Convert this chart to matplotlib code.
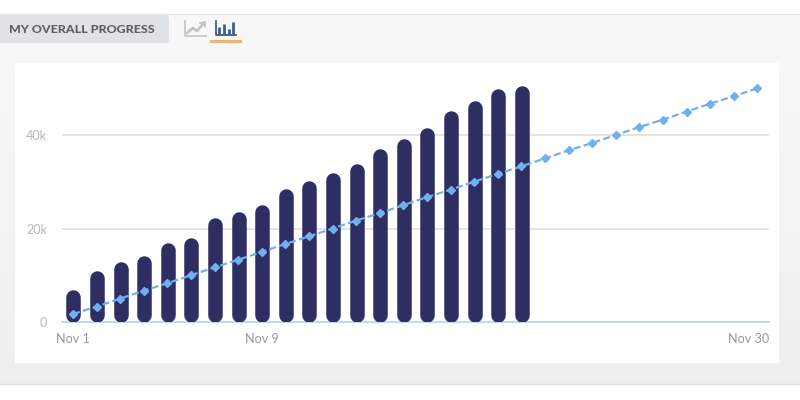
import numpy as np
import matplotlib.pyplot as plt
import matplotlib.transforms as mtrans
from matplotlib.patches import Rectangle, FancyBboxPatch

plt.rcParams['font.family'] = ['Lato', 'DejaVu Sans']

days = list(range(1, 31))
bar_days = days[:20]
# daily totals
bar_values = [7000, 10900, 12800, 14100, 16900, 18000, 22200, 23500, 25000, 28400,
              30200, 31900, 33800, 37000, 39100, 41500, 45100, 47300, 50000, 50500]
# dashed target line
line_values = [1700, 3300, 5000, 6700, 8300, 10000, 11700, 13300, 15000, 16700,
               18300, 20000, 21700, 23300, 25000, 26700, 28300, 30000, 31700, 33300,
               35000, 36700, 38300, 40000, 41700, 43300, 45000, 46700, 48300, 50000]
y_ticks = [0, 20000, 40000]
y_labels = ['0', '20k', '40k']
x_ticks = [1, 9, 30]
x_labels = ['Nov 1', 'Nov 9', 'Nov 30']

W, H = 800, 400
px = 0.72  # points per pixel at dpi 100

fig = plt.figure(figsize=(W / 100, H / 100), dpi=100, facecolor='white')

# page background, in pixel coordinates
bg = fig.add_axes([0, 0, 1, 1])
bg.axis('off')
bg.imshow(np.linspace(0.97, 0.935, 64).reshape(-1, 1), cmap='gray', vmin=0, vmax=1,
          extent=(0, W, 384, 14), aspect='auto', zorder=0)
bg.set_xlim(0, W)
bg.set_ylim(H, 0)
bg.plot([0, W], [14, 14], color='#e8e8e8', lw=1)
bg.plot([0, W], [384, 384], color='#e2e2e2', lw=1)
bg.add_patch(Rectangle((15, 63), 764, 300, fc='white', ec='none'))
bg.add_patch(FancyBboxPatch((-10, 15), 179, 28, boxstyle='round,pad=0,rounding_size=4',
                            fc='#dfe3e6', ec='none'))
bg.text(9, 29.5, 'MY OVERALL PROGRESS', fontsize=12.45 * px, fontweight='black',
        color='#5f5f63', va='center', ha='left')

# line icon
bg.plot([185, 185, 206], [21, 36, 36], color='#c4c4c4', lw=1.2)
bg.plot([187, 193, 197, 204], [33, 28, 31, 23], color='#c4c4c4', lw=2)
bg.plot([200, 205, 205], [23, 22, 27], color='#c4c4c4', lw=1.2)
# bar icon
bg.plot([216, 216, 236], [21, 35, 35], color='#3c4a78', lw=1.2)
for ix, iy in zip([219, 224, 229, 233], [27, 24, 29, 22]):
    bg.plot([ix, ix], [iy, 34], color='#3c5f96', lw=2, solid_capstyle='butt')
bg.add_patch(Rectangle((210, 40), 32, 3, fc='#efb273', ec='none'))

# chart axes, pixel positions from the reference
left, right, top, bottom = 62, 769, 63, 322
ax = fig.add_axes([left / W, 1 - bottom / H, (right - left) / W, (bottom - top) / H])
ax.patch.set_alpha(0)
day_px = 23.6
val_px = 4.675 / 1000
ax.set_xlim(1 - (73 - left) / day_px, 1 + (right - 73) / day_px)
ax.set_ylim(0, (bottom - top) / val_px)

for s in ['top', 'left', 'right']:
    ax.spines[s].set_visible(False)
ax.spines['bottom'].set_color('#ccd3ee')
ax.spines['bottom'].set_linewidth(2 * px)

ax.yaxis.grid(True, color='#e4e4e4', lw=2 * px)
ax.set_axisbelow(True)

# bars with round ends, thick capped lines
bar_w = 14.5
r = (bar_w / 2) / val_px
ax.vlines([d + 0.02 for d in bar_days], r, [v - r for v in bar_values], color='#2f2e63',
          lw=bar_w * px, capstyle='round', zorder=3)
ax.plot(days, line_values, color='#70b0ee', lw=2.2 * px, ls=(0, (3.2, 1.5)),
        marker='D', ms=5.5 * px, mfc='#70b0ee', mec='#70b0ee', zorder=4)

ax.set_yticks(y_ticks)
ax.set_yticklabels(y_labels, fontsize=12.6 * px, color='#b9b9b9')
ax.set_xticks(x_ticks)
ax.set_xticklabels(x_labels, fontsize=12.6 * px, color='#999999')
ax.tick_params(axis='both', length=0)
ax.tick_params(axis='y', pad=15 * px)
ax.tick_params(axis='x', pad=11 * px)

# last label sits flush with the right end of the axis
last = ax.get_xticklabels()[-1]
last.set_ha('right')
last.set_transform(last.get_transform() + mtrans.ScaledTranslation(11.5 / 100, 0, fig.dpi_scale_trans))

fig.savefig('out.png', dpi=100, facecolor='white')
